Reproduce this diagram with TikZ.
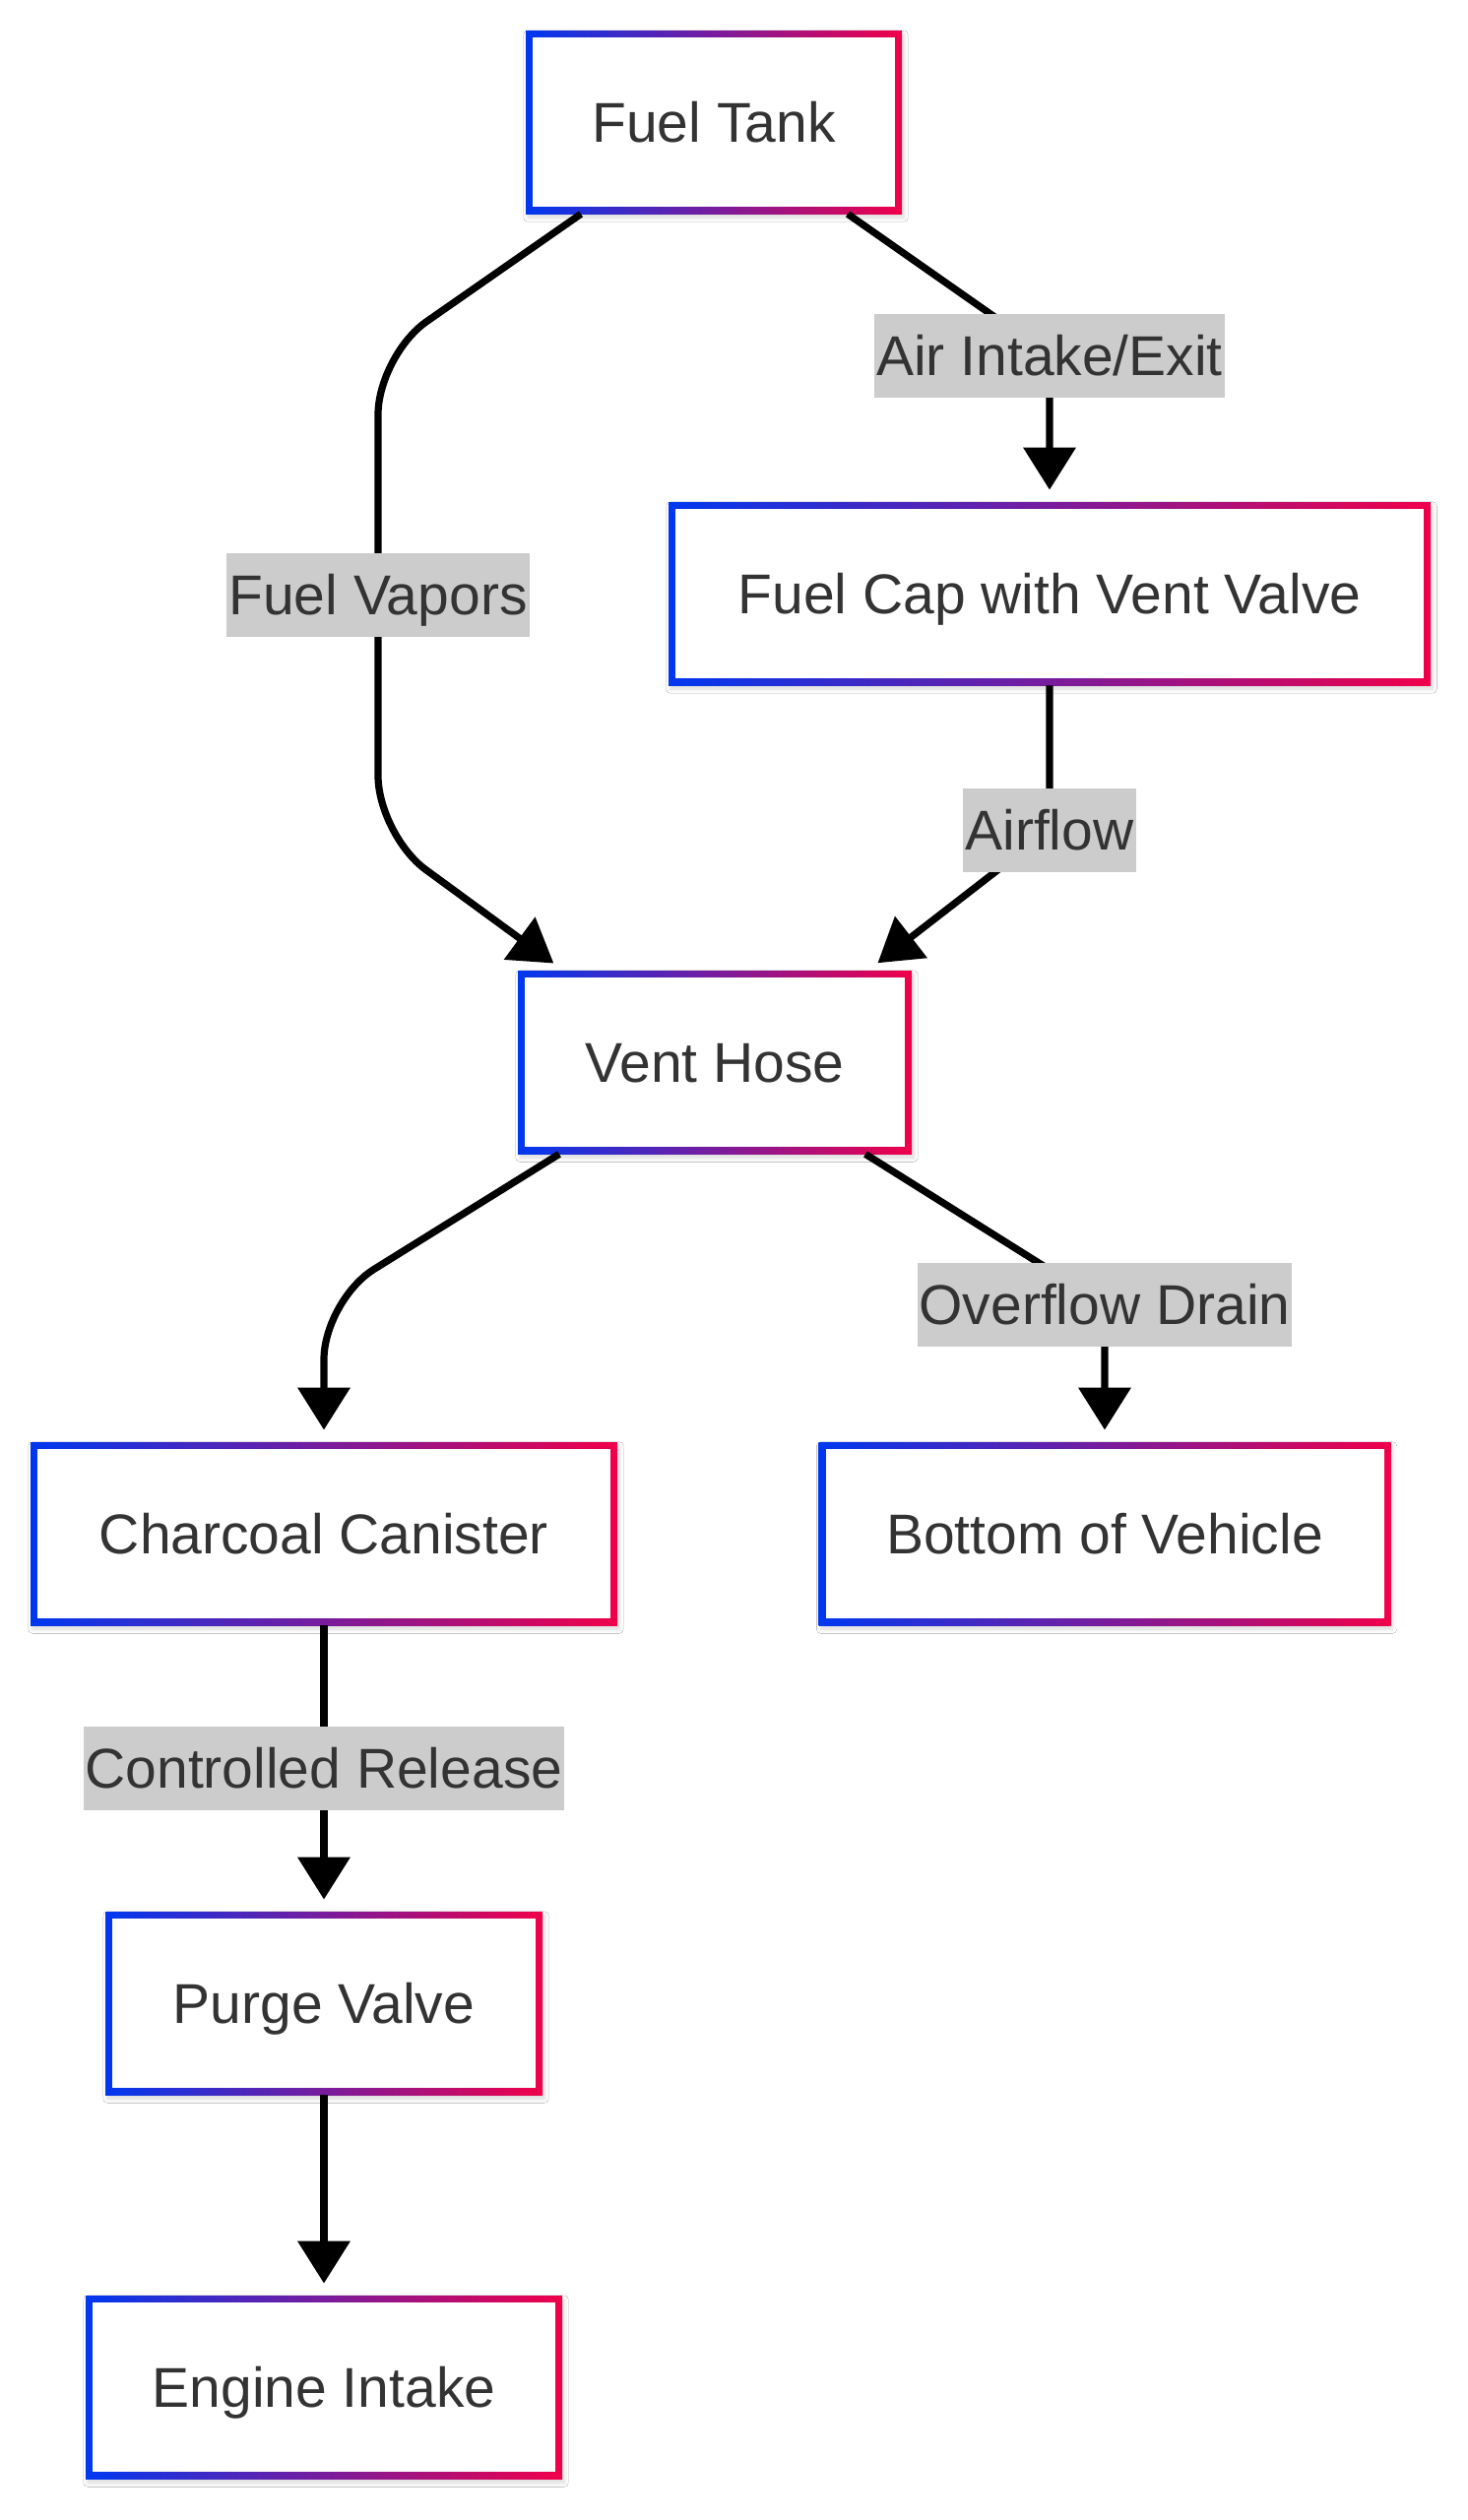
\documentclass[tikz,border=0pt]{standalone}
\usepackage{fontspec}
\setmainfont{Liberation Sans}
\usetikzlibrary{positioning, calc, arrows.meta, shadows.blur}
\definecolor{edgeblue}{HTML}{0038F0}
\definecolor{edgered}{HTML}{F0004A}
\definecolor{txtgray}{HTML}{333333}
\definecolor{tagfill}{HTML}{CCCCCC}

\begin{document}
\begin{tikzpicture}[x=0.5pt, y=-0.5pt, font=\fontsize{28.5}{34}\selectfont]
        \tikzstyle{part}=[rectangle, minimum height=93pt, inner sep=0pt, text=txtgray,
          text height=20.4pt, text depth=0pt,
          left color=edgeblue, right color=edgered,
          blur shadow={shadow xshift=1pt, shadow yshift=-2pt, shadow opacity=15, shadow blur steps=6},
          path picture={\fill[white] ($(path picture bounding box.south west)+(3.5pt,3.5pt)$) rectangle ($(path picture bounding box.north east)-(3.5pt,3.5pt)$);}];
        \tikzstyle{tag}=[sharp corners, fill=tagfill, text=txtgray, text height=20.4pt, text depth=0pt,
          inner xsep=1pt, inner ysep=0pt, minimum height=42.5pt];
        \tikzstyle{flow}=[line width=3.6pt, -{Triangle[length=21.5pt, width=26pt]}, shorten >=6pt, rounded corners=30pt];

        \fill[white] (0,0) rectangle (1491,2560);
        \useasboundingbox (0,0) rectangle (1491,2560);

        \node[part, minimum width=191pt] (tank) at (725,124) {Fuel Tank};
        \node[part, minimum width=387pt] (cap) at (1066,603) {Fuel Cap with Vent Valve};
        \node[part, minimum width=200pt] (hose) at (726,1079) {Vent Hose};
        \node[part, minimum width=298pt] (canister) at (329,1558) {Charcoal Canister};
        \node[part, minimum width=290.5pt] (bottom) at (1122,1558) {Bottom of Vehicle};
        \node[part, minimum width=222pt] (purge) at (329,2035) {Purge Valve};
        \node[part, minimum width=242pt] (intake) at (329,2425) {Engine Intake};

        \draw[flow, rounded corners=10pt] ([xshift=68pt]tank.south) -- (1066,361) node[tag] {Air Intake/Exit} -- (cap.north);
        \draw[flow] ([xshift=-67.5pt]tank.south) -- (384,361) -- node[tag] {Fuel Vapors} (384,848) -- ([xshift=-77pt]hose.north);
        \draw[flow, rounded corners=10pt] (cap.south) -- (1066,843) node[tag] {Airflow} -- ([xshift=78pt]hose.north);
        \draw[flow] ([xshift=-79pt]hose.south) -- (329,1321) -- (canister.north);
        \draw[flow, rounded corners=10pt] ([xshift=76.5pt]hose.south) -- (1122,1325) node[tag] {Overflow Drain} -- (bottom.north);

        \path[flow]
        (canister) edge node[tag] {Controlled Release} (purge)
        (purge) edge (intake);
      \end{tikzpicture}
\end{document}
